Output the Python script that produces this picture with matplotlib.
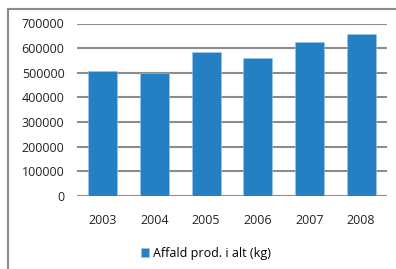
import numpy as np
import matplotlib
matplotlib.use("Agg")
import matplotlib.pyplot as plt
from matplotlib.patches import Rectangle

years = ["2003", "2004", "2005", "2006", "2007", "2008"]
affald = [506000, 498000, 586000, 560000, 624000, 657000]
yticks = [0, 100000, 200000, 300000, 400000, 500000, 600000, 700000]

BAR = "#2580c3"
GRID = "#8c8c8c"
TEXT = "#222222"

plt.rcParams.update({"font.family": ["Open Sans", "DejaVu Sans"], "font.size": 9})

fig = plt.figure(figsize=(3.96, 2.69), dpi=100)
ax = fig.add_axes([77 / 396, 1 - 196 / 269, 310 / 396, 172.5 / 269])

x = np.arange(len(years))
ax.bar(x, affald, width=0.56, color=BAR, edgecolor="#9cc8ea", linewidth=0.4,
       zorder=3, label="Affald prod. i alt (kg)")
for v in yticks:
    ax.axhline(v, color=GRID, lw=1.5, zorder=1)

ax.set_xlim(-0.5, len(years) - 0.5)
ax.set_ylim(0, 700000)
ax.set_yticks(yticks)
ax.set_yticklabels([str(v) for v in yticks], color=TEXT)
ax.set_xticks(x)
ax.set_xticklabels(years, color=TEXT)
ax.tick_params(axis="y", length=0, pad=9)
ax.tick_params(axis="x", length=0, pad=13)
for s in ax.spines.values():
    s.set_visible(False)

fig.legend(loc="center", bbox_to_anchor=(0.52, 1 - 253 / 269), frameon=False,
           handlelength=0.7, handleheight=0.7, handletextpad=0.3)

fig.patches.append(Rectangle((8 / 396, -0.2), 1.2, 1.2 - 9 / 269,
                             transform=fig.transFigure, fill=False,
                             edgecolor="#8a8a8a", lw=1.5))

fig.savefig("out.png", dpi=100)
